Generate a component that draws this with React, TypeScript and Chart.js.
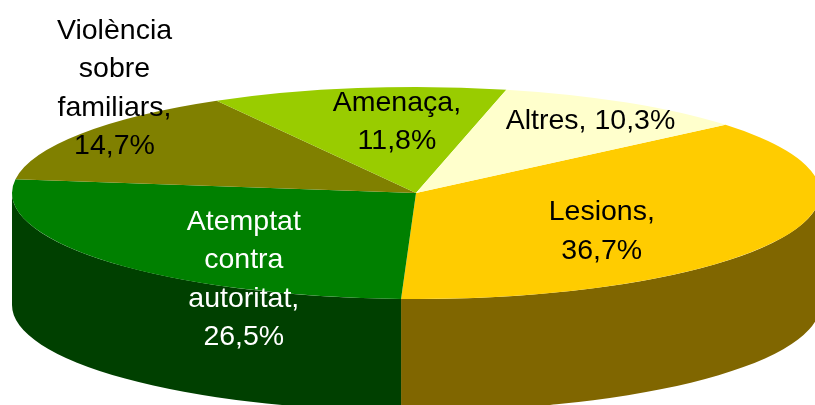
import React, { useEffect, useRef } from "react";
import { Chart, registerables } from "chart.js";

Chart.register(...registerables);

const categories = ["Lesions", "Atemptat contra autoritat", "Violència sobre familiars", "Amenaça", "Altres"];
const values = [36.7, 26.5, 14.7, 11.8, 10.3];
const percentLabels = ["36,7%", "26,5%", "14,7%", "11,8%", "10,3%"];
const labelLines = [
  ["Lesions,"],
  ["Atemptat", "contra", "autoritat,"],
  ["Violència", "sobre", "familiars,"],
  ["Amenaça,"],
];
const topColours = ["#FFCC00", "#008000", "#808000", "#99CC00", "#FFFFCC"];
const sideColours = ["#806600", "#004000", "#404000", "#4D6600", "#808066"];
const textColours = ["#000000", "#FFFFFF", "#000000", "#000000", "#000000"];

// Projection of the pie disc on the canvas
const CX = 416, CY = 193, RX = 404, RY = 106, DEPTH = 112;
const FONT_SIZE = 28.5, LINE_HEIGHT = 38.5;
const LABEL_RADIUS = 0.6;
const labelOffsets = [[-32, 10.5], [13, 45.5], [-100.5, -69], [16, -8], [48, -17.5]];

const pie3d = {
  id: "pie3d",
  beforeDatasetsDraw(chart: any) {
    const ctx = chart.ctx;
    const arcs = chart.getDatasetMeta(0).data;
    // front wall
    arcs.forEach((arc: any, i: number) => {
      for (const shift of [0, Math.PI * 2]) {
        const a = Math.max(arc.startAngle + shift, 0);
        const b = Math.min(arc.endAngle + shift, Math.PI);
        if (b <= a) continue;
        ctx.save();
        ctx.beginPath();
        ctx.ellipse(CX, CY, RX, RY, 0, a, b, false);
        ctx.ellipse(CX, CY + DEPTH, RX, RY, 0, b, a, true);
        ctx.closePath();
        ctx.fillStyle = sideColours[i];
        ctx.fill();
        ctx.restore();
      }
    });
    // squash the disc
    const first = arcs[0];
    const r = first.outerRadius;
    ctx.save();
    ctx.translate(CX, CY);
    ctx.scale(RX / r, RY / r);
    ctx.translate(-first.x, -first.y);
  },
  afterDatasetsDraw(chart: any) {
    const ctx = chart.ctx;
    ctx.restore();
    const arcs = chart.getDatasetMeta(0).data;
    ctx.save();
    ctx.font = `${FONT_SIZE}px "Liberation Sans", Arial, sans-serif`;
    ctx.textAlign = "center";
    ctx.textBaseline = "middle";
    arcs.forEach((arc: any, i: number) => {
      const mid = (arc.startAngle + arc.endAngle) / 2;
      const x = CX + LABEL_RADIUS * RX * Math.cos(mid) + labelOffsets[i][0];
      const y = CY + LABEL_RADIUS * RY * Math.sin(mid) + labelOffsets[i][1];
      const lines = i === 4 ? [`${categories[4]}, ${percentLabels[4]}`] : [...labelLines[i], percentLabels[i]];
      ctx.fillStyle = textColours[i];
      lines.forEach((line: string, k: number) => {
        ctx.fillText(line, x, y + (k - (lines.length - 1) / 2) * LINE_HEIGHT);
      });
    });
    ctx.restore();
  },
};

export default function App() {
  const ref = useRef<HTMLCanvasElement>(null);
  useEffect(() => {
    const chart = new Chart(ref.current as HTMLCanvasElement, {
      type: "pie",
      data: {
        labels: categories,
        datasets: [{ data: values, backgroundColor: topColours, borderWidth: 0, clip: false } as any],
      },
      options: {
        animation: false,
        responsive: false,
        rotation: 50,
        layout: { padding: 0 },
        plugins: { legend: { display: false }, tooltip: { enabled: false } },
      },
      plugins: [pie3d],
    } as any);
    return () => chart.destroy();
  }, []);
  return (
    <canvas
      ref={ref}
      width={815}
      height={405}
      style={{ position: "absolute", left: 0, top: 0, display: "block", width: 815, height: 405 }}
    />
  );
}
